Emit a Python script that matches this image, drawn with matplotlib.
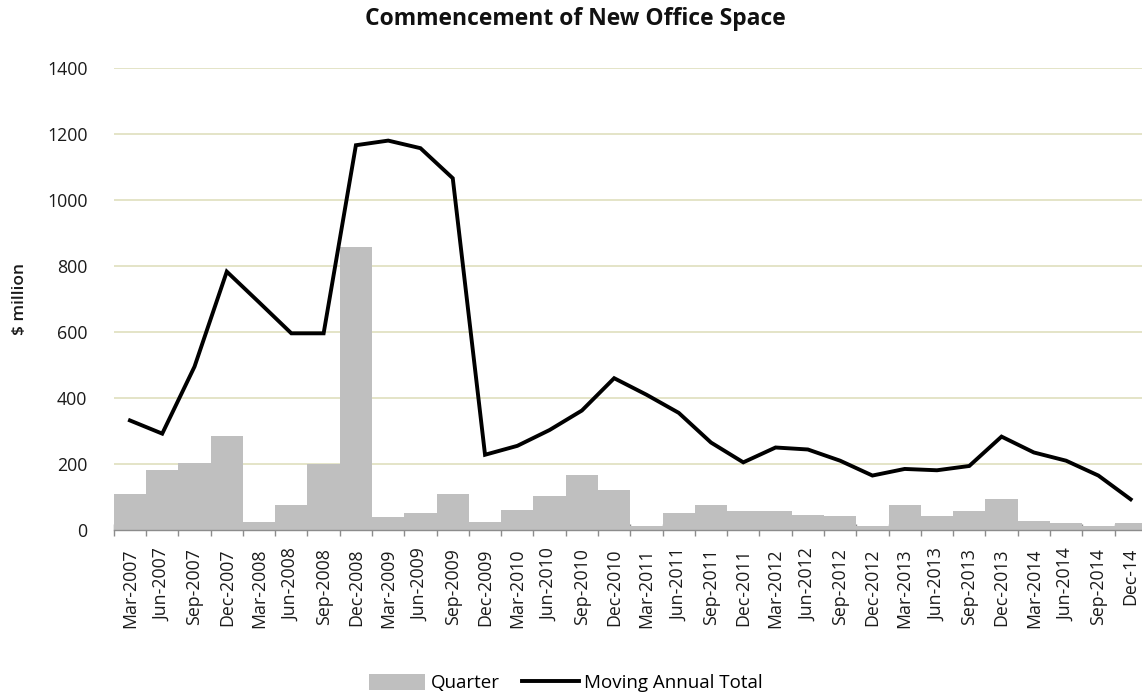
import matplotlib
matplotlib.use("Agg")
import matplotlib.pyplot as plt
from matplotlib.patches import Patch
from matplotlib.lines import Line2D
import numpy as np

plt.rcParams['font.family'] = ['Open Sans', 'DejaVu Sans']

quarters = [
    "Mar-2007", "Jun-2007", "Sep-2007", "Dec-2007",
    "Mar-2008", "Jun-2008", "Sep-2008", "Dec-2008",
    "Mar-2009", "Jun-2009", "Sep-2009", "Dec-2009",
    "Mar-2010", "Jun-2010", "Sep-2010", "Dec-2010",
    "Mar-2011", "Jun-2011", "Sep-2011", "Dec-2011",
    "Mar-2012", "Jun-2012", "Sep-2012", "Dec-2012",
    "Mar-2013", "Jun-2013", "Sep-2013", "Dec-2013",
    "Mar-2014", "Jun-2014", "Sep-2014", "Dec-14",
]

quarter_values = [
    110, 182, 202, 286,
    23, 77, 200, 858,
    38, 52, 110, 23,
    62, 104, 168, 120,
    13, 52, 76, 57,
    57, 46, 43, 13,
    76, 42, 57, 95,
    28, 22, 13, 22,
]

moving_annual_total = [
    332, 292, 495, 783,
    690, 596, 596, 1166,
    1180, 1157, 1066, 228,
    255, 303, 362, 460,
    410, 355, 265, 205,
    250, 244, 210, 165,
    185, 181, 194, 283,
    235, 210, 165, 93,
]

W, H = 1142, 694
fig = plt.figure(figsize=(W / 100, H / 100), dpi=100)

left_px, right_px = 113.8, 1146.8
bottom_px, top_px = 530, 68
ax = fig.add_axes([left_px / W, 1 - bottom_px / H,
                   (right_px - left_px) / W, (bottom_px - top_px) / H])

x = np.arange(len(quarters))
ax.bar(x, quarter_values, width=1.0, color="#bfbfbf", edgecolor="none",
       zorder=2, label="Quarter")
ax.plot(x, moving_annual_total, color="black", linewidth=2.8,
        solid_joinstyle="miter", zorder=3, label="Moving Annual Total")

ax.set_xlim(-0.5, len(quarters) - 0.5)
ax.set_ylim(0, 1400)
ax.set_yticks(np.arange(0, 1401, 200))
ax.yaxis.grid(True, color="#dcdcb8", linewidth=1.1, zorder=0)
ax.set_axisbelow(True)

for side in ("top", "right", "left"):
    ax.spines[side].set_visible(False)
ax.spines["bottom"].set_color("#8c8c8c")
ax.spines["bottom"].set_linewidth(1.0)
ax.spines["bottom"].set_zorder(4)

ax.set_xticks(x)
ax.set_xticklabels(quarters, rotation=90, fontsize=12.8, color="#1a1a1a")
ax.tick_params(axis="x", which="major", length=0, pad=13)
ax.set_xticks(np.arange(-0.5, len(quarters) + 0.5, 1.0), minor=True)
ax.tick_params(axis="x", which="minor", length=8, width=1.0, color="#8c8c8c",
               direction="inout")
ax.tick_params(axis="y", length=0, pad=19, labelsize=12.8, labelcolor="#1a1a1a")

fig.text(20 / W, 1 - 299 / H, "$ million", rotation=90, ha="center",
         va="center", fontsize=12.5, fontweight="semibold", color="#1a1a1a")
fig.text(575 / W, 1 - 19 / H, "Commencement of New Office Space",
         ha="center", va="center", fontsize=16.5, fontweight="bold",
         color="#111111")

handles = [
    Patch(facecolor="#bfbfbf", edgecolor="none", label="Quarter"),
    Line2D([0], [0], color="black", linewidth=2.8, label="Moving Annual Total"),
]
fig.legend(handles=handles, loc="center", ncol=2, frameon=False,
           bbox_to_anchor=(566 / W, 1 - 683 / H), fontsize=13.5,
           handlelength=3.0, handletextpad=0.3, columnspacing=1.2,
           handleheight=1.0)

fig.savefig("out.png", dpi=100)
